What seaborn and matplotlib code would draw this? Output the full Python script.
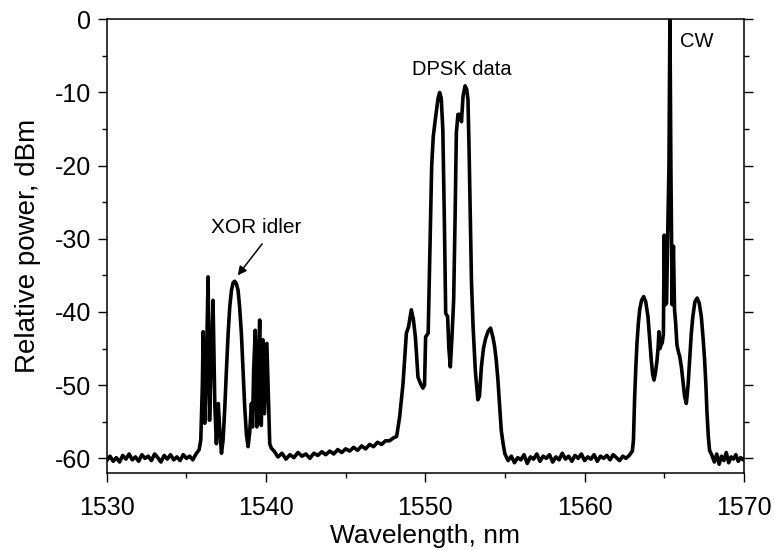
import numpy as np
import pandas as pd
import matplotlib
matplotlib.use("Agg")
import matplotlib.pyplot as plt
import seaborn as sns
from matplotlib.ticker import MultipleLocator

# spectrum, split by region (wavelength nm, power dBm)
base_left_wl = [1530.0, 1530.2, 1530.4, 1530.6, 1530.8, 1531.0, 1531.2, 1531.4, 1531.6, 1531.8,
                1532.0, 1532.2, 1532.4, 1532.6, 1532.8, 1533.0, 1533.2, 1533.4, 1533.6, 1533.8,
                1534.0, 1534.2, 1534.4, 1534.6, 1534.8, 1535.0, 1535.2, 1535.4, 1535.6]
base_left_db = [-60.3, -59.7, -60.4, -59.9, -60.5, -59.6, -60.1, -59.4, -60.2, -59.8,
                -60.4, -59.5, -60.0, -59.7, -60.3, -59.4, -59.9, -60.5, -59.6, -60.1,
                -59.5, -60.2, -59.8, -60.3, -59.5, -60.0, -59.7, -60.2, -59.4]

xor_wl = [1535.8, 1535.9, 1536.0, 1536.05, 1536.15, 1536.25, 1536.36, 1536.45, 1536.55, 1536.67,
          1536.78, 1536.88, 1537.0, 1537.1, 1537.2, 1537.3, 1537.41, 1537.52, 1537.62, 1537.72,
          1537.83, 1537.93, 1538.03, 1538.13, 1538.24, 1538.34, 1538.45, 1538.55, 1538.66, 1538.77,
          1538.87, 1538.97, 1539.08, 1539.15, 1539.22, 1539.32, 1539.42, 1539.52, 1539.6, 1539.7,
          1539.8, 1539.9, 1540.05, 1540.15, 1540.23, 1540.33]
xor_db = [-58.8, -57.5, -50.0, -42.7, -55.2, -48.0, -35.2, -54.8, -47.0, -38.4,
          -52.5, -58.0, -52.5, -56.5, -59.3, -57.5, -53.0, -47.5, -42.9, -39.3,
          -37.0, -36.0, -35.8, -36.1, -37.0, -39.3, -42.9, -47.8, -53.0, -56.8,
          -58.4, -56.5, -52.5, -55.7, -48.0, -42.5, -55.7, -47.0, -41.1, -55.5,
          -43.8, -53.9, -44.3, -52.0, -58.0, -58.6]

base_mid_wl = [1540.5, 1540.75, 1541.0, 1541.25, 1541.5, 1541.75, 1542.0, 1542.25, 1542.5, 1542.75,
               1543.0, 1543.25, 1543.5, 1543.75, 1544.0, 1544.25, 1544.5, 1544.75, 1545.0, 1545.25,
               1545.5, 1545.75, 1546.0, 1546.25, 1546.5, 1546.75, 1547.0, 1547.25, 1547.5, 1547.75,
               1548.0]
base_mid_db = [-59.0, -59.8, -59.3, -60.1, -59.5, -59.9, -59.2, -59.7, -59.4, -60.0,
               -59.3, -59.6, -59.1, -59.5, -59.0, -59.4, -58.8, -59.2, -58.7, -59.0,
               -58.5, -58.9, -58.3, -58.7, -58.1, -58.4, -57.8, -58.1, -57.6, -57.6,
               -57.2]

dpsk_wl = [1548.2, 1548.39, 1548.6, 1548.81, 1548.95, 1549.12, 1549.25, 1549.38, 1549.54, 1549.7,
           1549.85, 1549.95, 1550.02, 1550.18, 1550.3, 1550.4, 1550.5, 1550.65, 1550.8, 1550.9,
           1551.0, 1551.1, 1551.2, 1551.28, 1551.4, 1551.48, 1551.57, 1551.66, 1551.78, 1551.87,
           1551.95, 1552.05, 1552.2, 1552.27, 1552.37, 1552.5, 1552.6, 1552.68, 1552.75, 1552.82,
           1552.9, 1553.0, 1553.14, 1553.3, 1553.4, 1553.52, 1553.65, 1553.79, 1553.95, 1554.1,
           1554.25, 1554.35, 1554.45, 1554.56, 1554.67, 1554.77, 1554.9]
dpsk_db = [-57.0, -54.3, -49.8, -42.9, -42.0, -39.7, -41.0, -43.5, -48.9, -49.8,
           -50.4, -50.0, -43.4, -42.9, -30.0, -20.0, -16.0, -13.3, -10.8, -10.0,
           -10.8, -15.1, -28.0, -40.2, -40.6, -45.0, -47.5, -44.0, -38.4, -27.0,
           -15.5, -13.0, -13.0, -14.0, -10.5, -9.1, -9.6, -11.0, -18.0, -26.5,
           -36.0, -42.0, -48.0, -52.0, -51.5, -47.5, -45.0, -43.6, -42.6, -42.2,
           -43.5, -44.7, -46.5, -49.3, -53.0, -56.2, -58.2]

base_right_wl = [1555.0, 1555.2, 1555.4, 1555.6, 1555.8, 1556.0, 1556.2, 1556.4, 1556.6, 1556.8,
                 1557.0, 1557.2, 1557.4, 1557.6, 1557.8, 1558.0, 1558.2, 1558.4, 1558.6, 1558.8,
                 1559.0, 1559.2, 1559.4, 1559.6, 1559.8, 1560.0, 1560.2, 1560.4, 1560.6, 1560.8,
                 1561.0, 1561.2, 1561.4, 1561.6, 1561.8, 1562.0, 1562.2, 1562.4, 1562.6, 1562.8]
base_right_db = [-59.4, -60.3, -59.7, -60.6, -59.9, -60.2, -59.5, -60.7, -59.8, -60.1,
                 -59.4, -60.4, -59.7, -60.0, -59.5, -60.5, -59.8, -60.2, -59.3, -60.1,
                 -59.7, -60.4, -59.6, -60.0, -59.4, -60.3, -59.8, -60.1, -59.5, -60.4,
                 -59.7, -60.0, -59.6, -60.2, -59.5, -59.9, -60.3, -59.7, -60.0, -59.6]

cw_wl = [1563.0, 1563.07, 1563.14, 1563.22, 1563.29, 1563.38, 1563.46, 1563.58, 1563.71, 1563.84,
         1563.98, 1564.08, 1564.19, 1564.28, 1564.36, 1564.45, 1564.55, 1564.62, 1564.67, 1564.73,
         1564.8, 1564.88, 1564.95, 1565.0, 1565.07, 1565.15, 1565.22, 1565.3, 1565.36, 1565.42,
         1565.5, 1565.58, 1565.65, 1565.72, 1565.8, 1565.9, 1565.97, 1566.08, 1566.18, 1566.28,
         1566.39, 1566.5, 1566.6, 1566.7, 1566.8, 1566.93, 1567.07, 1567.2, 1567.33, 1567.44,
         1567.54, 1567.62, 1567.68, 1567.77, 1567.85]
cw_db = [-59.0, -57.5, -52.0, -47.5, -44.3, -41.5, -39.7, -38.4, -37.9, -38.6,
         -40.6, -43.5, -46.6, -48.6, -49.3, -48.3, -46.6, -44.8, -42.7, -45.0,
         -44.5, -44.2, -43.0, -29.5, -39.0, -38.8, -29.5, -20.0, 0.5, -20.0,
         -39.0, -31.0, -39.7, -41.5, -44.5, -45.5, -46.0, -47.5, -49.5, -51.5,
         -52.5, -50.0, -46.6, -43.0, -40.6, -38.6, -38.1, -38.8, -40.6, -43.5,
         -46.6, -50.0, -53.4, -57.0, -58.9]

base_end_wl = [1568.0, 1568.15, 1568.3, 1568.45, 1568.6, 1568.75, 1568.9, 1569.05, 1569.2, 1569.35,
               1569.5, 1569.65, 1569.8, 1569.95, 1570.0]
base_end_db = [-59.6, -60.5, -59.4, -60.8, -59.7, -60.3, -59.2, -60.6, -59.8, -60.1,
               -59.5, -60.4, -59.9, -60.2, -60.0]

spectrum = pd.DataFrame({
    "wl": np.concatenate([base_left_wl, xor_wl, base_mid_wl, dpsk_wl, base_right_wl, cw_wl, base_end_wl]),
    "db": np.concatenate([base_left_db, xor_db, base_mid_db, dpsk_db, base_right_db, cw_db, base_end_db]),
})

sns.set_style("ticks")
plt.rcParams["font.family"] = ["Liberation Sans", "DejaVu Sans"]
plt.rcParams["axes.unicode_minus"] = False
plt.rcParams["text.color"] = "black"
plt.rcParams["axes.labelcolor"] = "black"

fig = plt.figure(figsize=(7.74, 5.5), dpi=100)
ax = fig.add_axes([0.138, 0.14, 0.823, 0.825])

sns.lineplot(data=spectrum, x="wl", y="db", sort=False, estimator=None,
             color="black", linewidth=2.6, ax=ax)

ax.set_xlim(1530, 1570)
ax.set_ylim(-62, 0)
ax.xaxis.set_major_locator(MultipleLocator(10))
ax.xaxis.set_minor_locator(MultipleLocator(5))
ax.yaxis.set_major_locator(MultipleLocator(10))
ax.yaxis.set_minor_locator(MultipleLocator(5))
ax.tick_params(which="major", direction="out", length=6.5, width=1, labelsize=18, colors="black")
ax.tick_params(which="minor", direction="out", length=3.5, width=1, colors="black")
ax.tick_params(axis="x", which="major", pad=10)
ax.tick_params(axis="y", which="major", pad=5)
ax.tick_params(which="both", right=True, labelright=False)
for s in ax.spines.values():
    s.set_linewidth(1.1)
    s.set_color("black")

ax.set_xlabel("Wavelength, nm", fontsize=19, labelpad=3)
ax.set_ylabel("Relative power, dBm", fontsize=20, labelpad=10)

ax.text(1552.28, -6.9, "DPSK data", fontsize=14.5, ha="center", va="center")
ax.text(1567.05, -3.0, "CW", fontsize=14.5, ha="center", va="center")
ax.text(1539.35, -28.4, "XOR idler", fontsize=15, ha="center", va="center")
ax.annotate("", xy=(1538.22, -35.0), xytext=(1539.75, -30.7),
            arrowprops=dict(arrowstyle="-|>", color="black", lw=1.1, mutation_scale=13,
                            shrinkA=0, shrinkB=0))

fig.savefig("out.png", dpi=100)
